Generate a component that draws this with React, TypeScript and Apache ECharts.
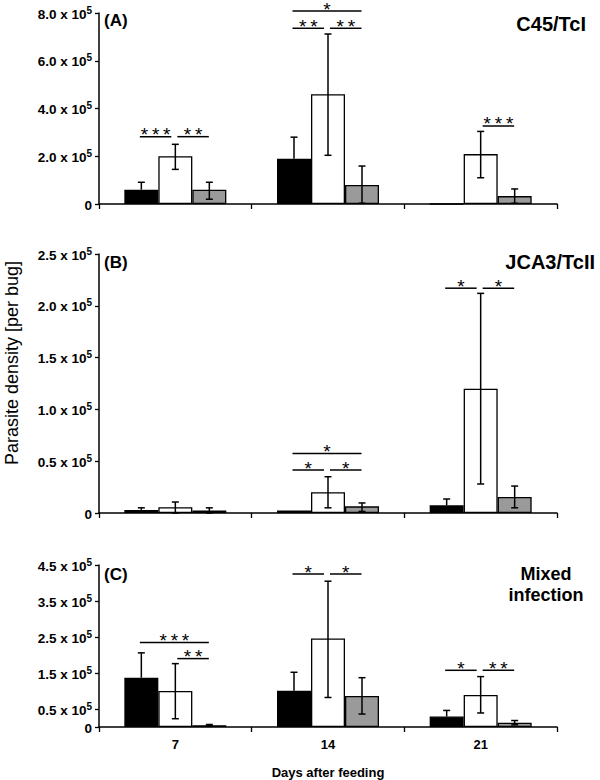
import React, { useEffect, useRef } from "react";
import * as echarts from "echarts";

// ---- categories ----
const days = ["7", "14", "21"];
const FONT = "'Liberation Sans', Arial, Helvetica, sans-serif";

// ---- values in units of 1 x 10^5 parasites per bug ----
// Panel A  (C45/TcI)
const aBlack = [0.6, 1.9, 0];
const aWhite = [2.0, 4.6, 2.09];
const aGrey = [0.6, 0.8, 0.33];
const aBlackHi = [0.91, 2.8, null];
const aWhiteHi = [2.5, 7.12, 3.04];
const aWhiteLo = [1.45, 2.04, 1.1];
const aGreyHi = [0.91, 1.59, 0.63];
const aGreyLo = [0.2, 0.03, 0.03];

// Panel B  (JCA3/TcII)
const bBlack = [0.03, 0.025, 0.074];
const bWhite = [0.055, 0.2, 1.2];
const bGrey = [0.025, 0.064, 0.155];
const bBlackHi = [0.05, null, 0.135];
const bWhiteHi = [0.106, 0.35, 2.12];
const bWhiteLo = [0.0, 0.05, 0.28];
const bGreyHi = [0.05, 0.097, 0.26];
const bGreyLo = [0.0, 0.015, 0.05];

// Panel C  (Mixed infection)
const cBlack = [1.37, 1.01, 0.29];
const cWhite = [1.0, 2.46, 0.89];
const cGrey = [0.05, 0.86, 0.12];
const cBlackHi = [2.06, 1.52, 0.46];
const cWhiteHi = [1.76, 4.05, 1.4];
const cWhiteLo = [0.23, 0.82, 0.39];
const cGreyHi = [0.07, 1.37, 0.18];
const cGreyLo = [0.03, 0.36, 0.06];

// ---- significance brackets: [day index, from bar, to bar, height (x10^5), stars] ----
const aSig: [number, number, number, number, string][] = [
  [0, 0, 1, 2.82, "***"],
  [0, 1, 2, 2.82, "**"],
  [1, 0, 2, 8.08, "*"],
  [1, 0, 1, 7.36, "**"],
  [1, 1, 2, 7.36, "**"],
  [2, 1, 2, 3.27, "***"],
];
const bSig: [number, number, number, number, string][] = [
  [1, 0, 2, 0.575, "*"],
  [1, 0, 1, 0.415, "*"],
  [1, 1, 2, 0.415, "*"],
  [2, 0, 1, 2.17, "*"],
  [2, 1, 2, 2.17, "*"],
];
const cSig: [number, number, number, number, string][] = [
  [0, 0, 2, 2.35, "***"],
  [0, 1, 2, 1.9, "**"],
  [1, 0, 1, 4.25, "*"],
  [1, 1, 2, 4.25, "*"],
  [2, 0, 1, 1.575, "*"],
  [2, 1, 2, 1.575, "**"],
];

// ---- y-axis ticks ----
const aTicks = [0, 2, 4, 6, 8];
const bTicks = [0, 0.5, 1, 1.5, 2, 2.5];
const cTicks = [0, 0.5, 1.5, 2.5, 3.5, 4.5];

const BAR_W = 34;
const colors = ["#000000", "#ffffff", "#9a9a9a"];

export default function App() {
  const ref = useRef<HTMLDivElement>(null);

  useEffect(() => {
    document.body.style.margin = "0";
    if (!ref.current) return;
    const chart = echarts.init(ref.current, undefined, { renderer: "svg" });

    const grids = [
      { left: 99, width: 458, top: 13, height: 191 },
      { left: 99, width: 458, top: 254, height: 259 },
      { left: 99, width: 458, top: 565, height: 168 },
    ];

    const yLabel = (v: number) =>
      v === 0 ? "{b|0}" : `{b|${v.toFixed(1)} x 10}{s|5}`;

    const richLab = {
      b: { fontFamily: FONT, fontSize: 13.5, fontWeight: "bold", color: "#000", lineHeight: 16, verticalAlign: "bottom" },
      s: { fontFamily: FONT, fontSize: 10, fontWeight: "bold", color: "#000", lineHeight: 16, verticalAlign: "top", padding: [0, 0, 4, 0] },
    };

    const yAxisDef = (gi: number, max: number, ticks: number[]) => ({
      type: "value",
      gridIndex: gi,
      min: 0,
      max,
      interval: 0.5,
      splitLine: { show: false },
      axisLine: { show: true, lineStyle: { color: "#000", width: 1.5 } },
      axisTick: { show: true, length: 4, lineStyle: { color: "#000", width: 1.3 }, customValues: ticks },
      axisLabel: { margin: 7, formatter: yLabel, rich: richLab, customValues: ticks },
    });

    const xAxisDef = (gi: number, showLabel: boolean) => ({
      type: "category",
      gridIndex: gi,
      data: days,
      boundaryGap: true,
      axisLine: { lineStyle: { color: "#000", width: 1.5 } },
      axisTick: { show: true, length: 5, lineStyle: { color: "#000", width: 1.3 } },
      axisLabel: {
        show: showLabel,
        margin: 11,
        fontFamily: FONT,
        fontSize: 13,
        fontWeight: "bold",
        color: "#000",
      },
      ...(showLabel
        ? {
            name: "Days after feeding",
            nameLocation: "middle",
            nameGap: 39,
            nameTextStyle: { fontFamily: FONT, fontSize: 13, fontWeight: "bold", color: "#000" },
          }
        : {}),
    });

    const barSeries = (gi: number, vals: number[], ci: number) => ({
      type: "bar",
      xAxisIndex: gi,
      yAxisIndex: gi,
      data: vals,
      barWidth: BAR_W,
      barGap: "0%",
      z: 2,
      itemStyle: { color: colors[ci], borderColor: "#000", borderWidth: 1.3 },
    });

    const errSeries = (
      gi: number,
      means: number[][],
      his: (number | null)[][],
      los: (number | null)[][]
    ) => {
      const data: number[][] = [];
      for (let g = 0; g < 3; g++) {
        for (let d = 0; d < 3; d++) {
          const h = his[g][d];
          if (h === null || h === undefined) continue;
          const l = los[g] ? los[g][d] : null;
          data.push([d, g, l === null || l === undefined ? means[g][d] : l, h, l === null || l === undefined ? 0 : 1]);
        }
      }
      return {
        type: "custom",
        xAxisIndex: gi,
        yAxisIndex: gi,
        z: 5,
        silent: true,
        data,
        renderItem: (_p: any, api: any) => {
          const d = api.value(0);
          const g = api.value(1);
          const lo = api.value(2);
          const hi = api.value(3);
          const showLo = api.value(4);
          const top = api.coord([d, hi]);
          const bot = api.coord([d, lo]);
          const x = top[0] + (g - 1) * BAR_W;
          const st = { stroke: "#000", lineWidth: 1.5 };
          const children: any[] = [
            { type: "line", shape: { x1: x, y1: top[1], x2: x, y2: bot[1] }, style: st },
            { type: "line", shape: { x1: x - 3.5, y1: top[1], x2: x + 3.5, y2: top[1] }, style: st },
          ];
          if (showLo) {
            children.push({ type: "line", shape: { x1: x - 3.5, y1: bot[1], x2: x + 3.5, y2: bot[1] }, style: st });
          }
          return { type: "group", children };
        },
      };
    };

    const sigSeries = (gi: number, sig: [number, number, number, number, string][]) => ({
      type: "custom",
      xAxisIndex: gi,
      yAxisIndex: gi,
      z: 6,
      silent: true,
      clip: false,
      data: sig.map((s) => [s[0], s[1], s[2], s[3]]),
      renderItem: (p: any, api: any) => {
        const d = api.value(0);
        const from = api.value(1);
        const to = api.value(2);
        const yv = api.value(3);
        const pt = api.coord([d, yv]);
        const cx = pt[0];
        const x1 = cx + (from - 1) * BAR_W + (from === 1 ? 2 : -1.5);
        const x2 = cx + (to - 1) * BAR_W + (to === 1 ? -4 : -0.5);
        const stars = sig[p.dataIndex][4].split("").join("\u2009");
        return {
          type: "group",
          children: [
            { type: "line", shape: { x1, y1: pt[1], x2, y2: pt[1] }, style: { stroke: "#000", lineWidth: 1.5 } },
            {
              type: "text",
              x: (x1 + x2) / 2,
              y: pt[1] - 2,
              style: {
                text: stars,
                fill: "#000",
                font: `19px ${FONT}`,
                textAlign: "center",
                textVerticalAlign: "middle",
              },
            },
          ],
        };
      },
    });

    const titleStyle = (size: number) => ({ fill: "#000", font: `bold ${size}px ${FONT}` });

    const option: any = {
      animation: false,
      backgroundColor: "#fff",
      grid: grids,
      xAxis: [xAxisDef(0, false), xAxisDef(1, false), xAxisDef(2, true)],
      yAxis: [yAxisDef(0, 8, aTicks), yAxisDef(1, 2.5, bTicks), yAxisDef(2, 4.5, cTicks)],
      series: [
        barSeries(0, aBlack, 0),
        barSeries(0, aWhite, 1),
        barSeries(0, aGrey, 2),
        errSeries(0, [aBlack, aWhite, aGrey], [aBlackHi, aWhiteHi, aGreyHi], [null as any, aWhiteLo, aGreyLo]),
        sigSeries(0, aSig),
        barSeries(1, bBlack, 0),
        barSeries(1, bWhite, 1),
        barSeries(1, bGrey, 2),
        errSeries(1, [bBlack, bWhite, bGrey], [bBlackHi, bWhiteHi, bGreyHi], [null as any, bWhiteLo, bGreyLo]),
        sigSeries(1, bSig),
        barSeries(2, cBlack, 0),
        barSeries(2, cWhite, 1),
        barSeries(2, cGrey, 2),
        errSeries(2, [cBlack, cWhite, cGrey], [cBlackHi, cWhiteHi, cGreyHi], [null as any, cWhiteLo, cGreyLo]),
        sigSeries(2, cSig),
      ],
      graphic: [
        { type: "text", left: 104, top: 12, style: { text: "(A)", ...titleStyle(17) } },
        { type: "text", left: 104, top: 254, style: { text: "(B)", ...titleStyle(17) } },
        { type: "text", left: 104, top: 566, style: { text: "(C)", ...titleStyle(17) } },
        { type: "text", right: 14, top: 14, style: { text: "C45/TcI", ...titleStyle(20) } },
        { type: "text", right: 5, top: 252, style: { text: "JCA3/TcII", ...titleStyle(20) } },
        {
          type: "text",
          x: 546,
          y: 563,
          style: { text: "Mixed\ninfection", ...titleStyle(18), textAlign: "center", lineHeight: 21 },
        },
        {
          type: "text",
          x: 12,
          y: 363,
          rotation: Math.PI / 2,
          style: {
            text: "Parasite density [per bug]",
            fill: "#000",
            font: `18px ${FONT}`,
            textAlign: "center",
            textVerticalAlign: "middle",
          },
        },
      ],
    };

    chart.setOption(option);
    return () => chart.dispose();
  }, []);

  return <div ref={ref} style={{ width: 600, height: 780 }} />;
}
